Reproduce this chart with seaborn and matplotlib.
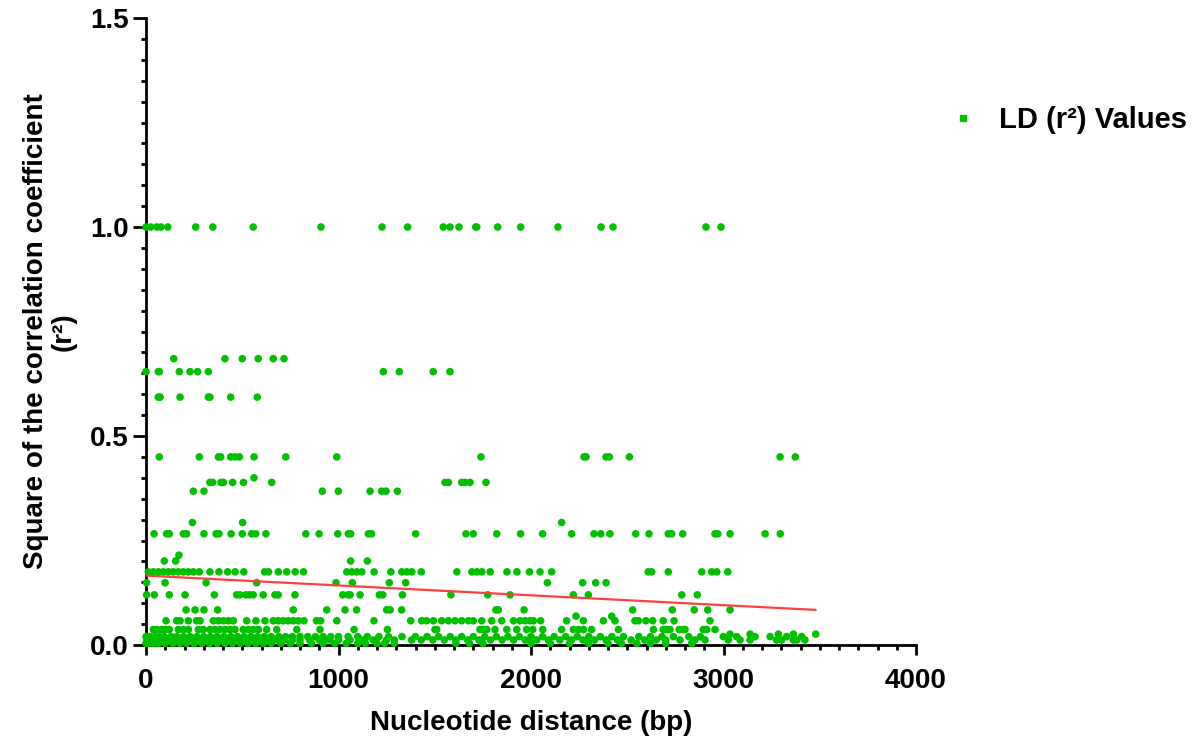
import numpy as np
import pandas as pd
import matplotlib
matplotlib.use("Agg")
import matplotlib.pyplot as plt
from matplotlib.ticker import MultipleLocator, FormatStrFormatter
from matplotlib.lines import Line2D
import seaborn as sns

# ---------------- data ----------------
x_r100 = [0, 24, 56, 78, 113, 258, 347, 557, 909, 1226, 1359, 1544, 1579, 1626, 1713, 1718,
          1827, 1946, 2140, 2364, 2426, 2909, 2987]
x_r0685 = [144, 410, 500, 583, 661, 717]
x_r0654 = [0, 64, 69, 173, 229, 268, 324, 1233, 1316, 1492, 1579]
x_r0593 = [64, 73, 177, 324, 332, 440, 578]
x_r0450 = [69, 277, 376, 388, 440, 462, 485, 561, 726, 991, 1740, 2275, 2286, 2390, 2407, 2511,
           3294, 3373]
x_r0400 = [561]
x_r0389 = [332, 346, 390, 402, 450, 506, 653, 1553, 1571, 1640, 1657, 1683, 1766]
x_r0368 = [246, 301, 916, 999, 1164, 1224, 1247, 1306]
x_r0293 = [241, 502, 2159]
x_r0266 = [42, 107, 121, 194, 211, 301, 364, 379, 442, 500, 549, 570, 623, 830, 899, 996, 1051,
           1063, 1155, 1172, 1401, 1662, 1700, 1822, 1946, 2060, 2211, 2327, 2362, 2410, 2544,
           2613, 2713, 2731, 2788, 2956, 2970, 3034, 3216, 3295]
x_r0215 = [171]
x_r0201 = [95, 154, 1063, 1150]
x_r0175 = [12, 38, 64, 90, 116, 142, 168, 194, 220, 246, 277, 332, 379, 424, 463, 508, 616, 636,
           688, 731, 775, 818, 1043, 1069, 1095, 1121, 1185, 1272, 1329, 1355, 1381, 1430, 1615,
           1693, 1719, 1745, 1788, 1875, 1927, 1992, 2047, 2107, 2609, 2627, 2713, 2887, 2939,
           2965, 3022]
x_r0149 = [3, 99, 312, 575, 987, 1072, 1264, 1349, 2085, 2268, 2336, 2390]
x_r0120 = [3, 43, 121, 203, 355, 471, 488, 519, 537, 557, 609, 670, 687, 774, 1022, 1051, 1060,
           1112, 1212, 1230, 1332, 1584, 1775, 1891, 2220, 2298, 2783, 2864]
x_r0084 = [208, 255, 301, 372, 765, 939, 1034, 1094, 1250, 1268, 1328, 1818, 1830, 1964, 2528,
           2734, 2848, 2918, 3034]
x_r0069 = [2234, 2419]
x_r0058 = [104, 159, 177, 220, 263, 281, 350, 376, 402, 428, 454, 523, 571, 618, 661, 687, 713,
           739, 765, 791, 821, 886, 907, 991, 1184, 1375, 1432, 1458, 1493, 1536, 1571, 1605, 1640,
           1675, 1700, 1744, 1796, 1848, 1909, 1943, 1969, 1995, 2012, 2050, 2185, 2272, 2376,
           2436, 2540, 2558, 2597, 2632, 2687, 2743, 2930]
x_r0037 = [38, 56, 81, 99, 121, 168, 194, 220, 272, 298, 332, 358, 384, 410, 436, 462, 505, 532,
           558, 584, 627, 679, 783, 904, 1081, 1254, 1501, 1510, 1735, 1753, 1770, 1813, 1874,
           1926, 1977, 2009, 2061, 2159, 2220, 2246, 2272, 2315, 2454, 2636, 2687, 2705, 2722,
           2770, 2791, 2800, 2895, 2913, 2956]
x_r0026 = [3034, 3138, 3285, 3363, 3479]
x_r0020 = [0, 20, 45, 70, 95, 130, 160, 195, 230, 265, 300, 335, 370, 405, 440, 475, 510, 545,
           580, 615, 650, 690, 725, 760, 800, 840, 880, 920, 960, 1000, 1050, 1100, 1150, 1210,
           1260, 1330, 1400, 1460, 1520, 1580, 1640, 1700, 1760, 1820, 1880, 1940, 2000, 2060,
           2120, 2180, 2240, 2300, 2360, 2420, 2480, 2560, 2620, 2680, 2740, 2820, 2880, 2999,
           3069, 3164, 3242, 3328, 3406]
x_r0012 = [5, 30, 55, 85, 115, 145, 180, 215, 250, 285, 320, 355, 390, 425, 460, 495, 530, 565,
           600, 640, 680, 720, 760, 800, 850, 900, 950, 1000, 1060, 1120, 1180, 1250, 1290, 1380,
           1430, 1490, 1550, 1610, 1670, 1730, 1790, 1850, 1910, 1970, 2030, 2090, 2150, 2210,
           2270, 2330, 2390, 2450, 2520, 2590, 2650, 2700, 2774, 2852, 2904, 3025, 3086, 3138,
           3276, 3302, 3363, 3381, 3423]
x_r0004 = [0, 15, 40, 65, 100, 140, 175, 210, 250, 290, 330, 370, 410, 450, 490, 530, 570, 610,
           650, 700, 750, 800, 860, 920, 980, 1040, 1100, 1140, 1200, 1240, 1290, 1610, 1680,
           1750, 2000, 2100, 2200, 2300, 2400, 2470, 2550, 2620, 2700, 2835]

r2_levels = [1.0, 0.685, 0.654, 0.593, 0.450, 0.400, 0.389, 0.368, 0.293, 0.266, 0.215, 0.201,
             0.175, 0.149, 0.120, 0.084, 0.069, 0.058, 0.037, 0.026, 0.020, 0.012, 0.004]
x_rows = [x_r100, x_r0685, x_r0654, x_r0593, x_r0450, x_r0400, x_r0389, x_r0368, x_r0293,
          x_r0266, x_r0215, x_r0201, x_r0175, x_r0149, x_r0120, x_r0084, x_r0069, x_r0058,
          x_r0037, x_r0026, x_r0020, x_r0012, x_r0004]

# fitted trend line (end points)
fit_x = [0, 3479]
fit_y = [0.166, 0.084]

series_label = "LD (r\u00b2) Values"
x_title = "Nucleotide distance (bp)"
y_title = "Square of the correlation coefficient\n(r\u00b2)"

# ---------------- build table ----------------
xs, ys = [], []
for lvl, row in zip(r2_levels, x_rows):
    xs.extend(row)
    ys.extend([lvl] * len(row))
df = pd.DataFrame({"distance": xs, "r2": ys})
df_fit = pd.DataFrame({"distance": fit_x, "r2": fit_y})

# ---------------- plot ----------------
sns.set_theme(style="white")
plt.rcParams["font.family"] = ["Liberation Sans", "DejaVu Sans"]
plt.rcParams["font.weight"] = "bold"
plt.rcParams["text.color"] = "black"
plt.rcParams["axes.labelcolor"] = "black"
plt.rcParams["xtick.color"] = "black"
plt.rcParams["ytick.color"] = "black"

FS = 20
green = "#00C000"
fig = plt.figure(figsize=(11.97, 7.38), dpi=100)
ax = fig.add_axes([146 / 1197, 1 - 645 / 738, 770 / 1197, 627 / 738])

sns.scatterplot(data=df, x="distance", y="r2", ax=ax, color=green, s=30,
                edgecolor="none", linewidth=0, clip_on=False, zorder=3, legend=False)
sns.lineplot(data=df_fit, x="distance", y="r2", ax=ax, color="#FF4040", linewidth=1.6,
             zorder=4, legend=False)

ax.set_xlim(0, 4000)
ax.set_ylim(0, 1.5)
ax.xaxis.set_major_locator(MultipleLocator(1000))
ax.xaxis.set_minor_locator(MultipleLocator(100))
ax.yaxis.set_major_locator(MultipleLocator(0.5))
ax.yaxis.set_minor_locator(MultipleLocator(0.05))
ax.yaxis.set_major_formatter(FormatStrFormatter("%.1f"))

for s in ["top", "right"]:
    ax.spines[s].set_visible(False)
for s in ["left", "bottom"]:
    ax.spines[s].set_color("black")
    ax.spines[s].set_linewidth(2)

ax.tick_params(axis="x", which="major", direction="out", length=7.2, width=2,
               color="black", labelsize=FS, pad=9, bottom=True)
ax.tick_params(axis="y", which="major", direction="out", length=9.4, width=2,
               color="black", labelsize=FS, pad=3, left=True)
ax.tick_params(axis="both", which="minor", direction="out", length=3.6, width=2,
               color="black", left=True, bottom=True)
for lab in ax.get_xticklabels() + ax.get_yticklabels():
    lab.set_fontweight("bold")
    lab.set_color("black")

ax.set_xlabel(x_title, fontsize=FS, fontweight="bold", color="black", labelpad=12)
ax.set_ylabel(y_title, fontsize=FS, fontweight="bold", color="black", labelpad=10,
              linespacing=1.05)

handle = Line2D([], [], marker="s", linestyle="none", color=green, markersize=5)
leg = ax.legend([handle], [series_label], loc="upper left", bbox_to_anchor=(1.027, 0.878),
                frameon=False, prop={"size": FS + 1, "weight": "bold"}, handletextpad=0.72,
                handlelength=1.0, borderaxespad=0)
for t in leg.get_texts():
    t.set_color("black")

fig.savefig("out.png", dpi=100)
